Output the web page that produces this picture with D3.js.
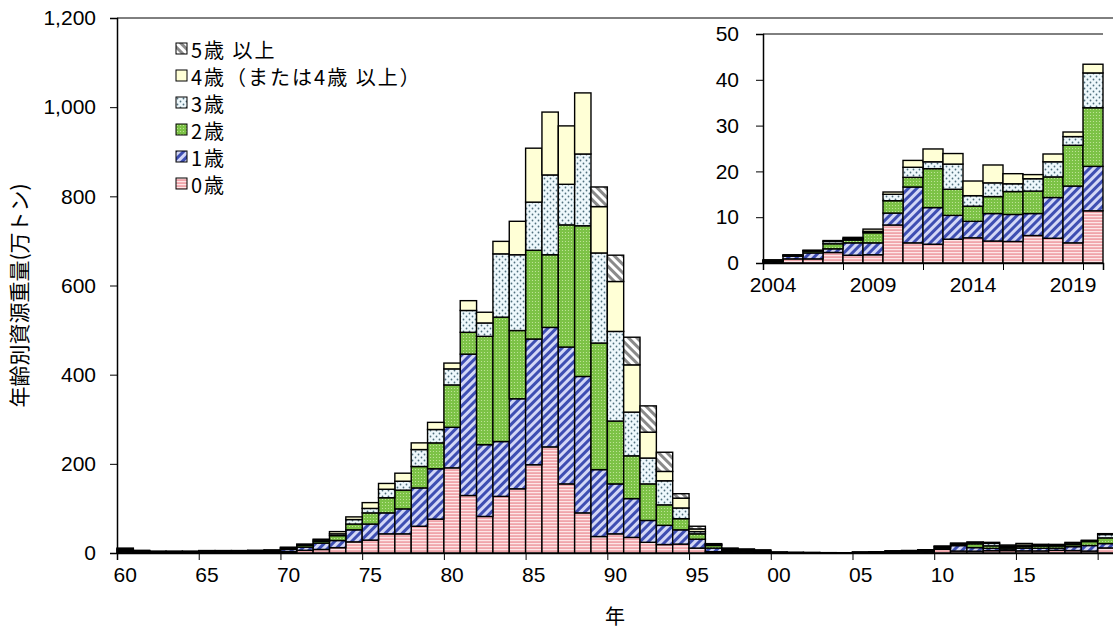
<!DOCTYPE html>
<html>
<head>
<meta charset="utf-8">
<title>年齢別資源重量</title>
<script src="https://d3js.org/d3.v7.min.js"></script>
<style>
  body { margin: 0; background: #fff; }
  svg text { font-family: "Liberation Sans", Arial, sans-serif; fill: #000; }
  svg .jp { font-family: "Noto Sans CJK JP", sans-serif; }
</style>
</head>
<body>
<svg id="chart" width="1113" height="630"></svg>
<script>
// categories
var years = d3.range(1960, 2021);
var insetYears = d3.range(2004, 2021);

// biomass by age (万トン), 1960 .. 2020
var age0 = [2,1,1,1,1,1,1,1,1,1, 3,6,8,12,25,29,43,43,60,76,
            191,129,82,127,144,198,238,155,90,37, 43,35,24,19,20,11,3,2,2,1,
            0.5,0.3,0.2,0.2,0.2,0.9,0.9,2.3,1.7,1.8, 8.3,4.4,4.1,5.2,5.5,4.8,4.7,6.0,5.4,4.4, 11.4];
var age1 = [3,2,1,1,1,1.5,1.5,1.5,2,2, 5,7,14,16,27,36,47,56,86,113,
            91,317,161,123,202,282,268,307,306,150, 112,87,49,43,32,20,8,3,2,2,
            0.5,0.4,0.3,0.2,0.2,0.6,1.3,0.8,2.7,2.6, 2.6,12.2,8.0,5.2,3.6,6.0,5.9,4.8,8.9,12.4, 9.7];
var age2 = [2,1,1,1,1,1.5,1.5,1.5,1.5,2, 2,4,4,11,13,25,34,42,48,58,
            95,49,243,279,153,199,163,274,338,284, 141,96,82,46,25,12,6,3,2,2,
            0.5,0.3,0.3,0.2,0.1,0.1,0.4,1.1,0.6,2.2, 2.7,2.1,8.5,5.7,3.3,3.7,5.0,4.9,4.5,8.9, 12.8];
var age3 = [2,1,0.5,0.5,0.5,1,1,1,1,1, 2,2,3,4,10,10,19,20,38,30,
            36,49,30,142,170,108,179,91,161,202, 201,98,58,54,24,5,2,2,2,1,
            0.3,0.2,0.2,0.1,0.1,0.1,0.1,0.5,0.3,0.3, 1.4,2.2,1.5,5.5,2.3,3.0,1.7,2.7,3.3,1.9, 7.6];
var age4 = [2,1,0.5,0.5,0.5,0.5,0.5,0.5,0.5,1, 1,1,2,5,6,13,13,18,15,16,
            13,22,24,28,75,121,141,131,137,104, 112,106,58,21,22,6,2,1,1,1,
            0.2,0.1,0.1,0.1,0.1,0.1,0.1,0.2,0.3,0.5, 0.5,1.5,2.8,2.3,3.2,3.9,2.2,0.9,1.7,1.0, 1.9];
var age5 = [0,0,0,0,0,0,0,0,0,0, 0,0,0,0,0,0,0,0,0,0,
            0,0,0,0,0,0,0,0,0,44, 59,62,59,43,10,6,0,0,0,0,
            0,0,0,0,0,0,0,0,0,0, 0,0,0,0,0,0,0,0,0,0, 0];

var keys = ["a0", "a1", "a2", "a3", "a4", "a5"];
var legendLabels = ["0歳", "1歳", "2歳", "3歳", "4歳（または4歳 以上）", "5歳 以上"];
var yTicks = [0, 200, 400, 600, 800, 1000, 1200];
var insetTicks = [0, 10, 20, 30, 40, 50];

var table = years.map(function(y, i) {
  return {year: y, a0: age0[i], a1: age1[i], a2: age2[i], a3: age3[i], a4: age4[i], a5: age5[i]};
});
var insetTable = table.filter(function(d) { return d.year >= 2004; });

var svg = d3.select("#chart");
var defs = svg.append("defs");

// fill patterns for each age class
function pattern(id, w, h, rot) {
  var p = defs.append("pattern").attr("id", id)
    .attr("patternUnits", "userSpaceOnUse")
    .attr("width", w).attr("height", h);
  if (rot) p.attr("patternTransform", "rotate(" + rot + ")");
  return p;
}
var p0 = pattern("p0", 4, 3);
p0.append("rect").attr("width", 4).attr("height", 3).attr("fill", "#f0a4aa");
p0.append("rect").attr("width", 4).attr("height", 1.2).attr("fill", "#fde6e7");
var p1 = pattern("p1", 6, 6, 45);
p1.append("rect").attr("width", 6).attr("height", 6).attr("fill", "#d3d7f6");
p1.append("rect").attr("width", 3).attr("height", 6).attr("fill", "#3e4eb2");
var p2 = pattern("p2", 3, 3);
p2.append("rect").attr("width", 3).attr("height", 3).attr("fill", "#7cc246");
p2.append("circle").attr("cx", 1.5).attr("cy", 1.5).attr("r", 0.6).attr("fill", "#c8e9a2");
var p3 = pattern("p3", 6, 6);
p3.append("rect").attr("width", 6).attr("height", 6).attr("fill", "#eef8fc");
p3.append("circle").attr("cx", 1.5).attr("cy", 1.5).attr("r", 0.9).attr("fill", "#50707e");
p3.append("circle").attr("cx", 4.5).attr("cy", 4.5).attr("r", 0.9).attr("fill", "#50707e");
var p4 = pattern("p4", 4, 4);
p4.append("rect").attr("width", 4).attr("height", 4).attr("fill", "#ffffd6");
var p5 = pattern("p5", 6, 6, -45);
p5.append("rect").attr("width", 6).attr("height", 6).attr("fill", "#ffffff");
p5.append("rect").attr("width", 3).attr("height", 6).attr("fill", "#8a8a8a");

var fills = {a0: "url(#p0)", a1: "url(#p1)", a2: "url(#p2)", a3: "url(#p3)", a4: "url(#p4)", a5: "url(#p5)"};

var stack = d3.stack().keys(keys);

// ---------- main chart ----------
var mLeft = 117, mRight = 1114, mTop = 18, mBottom = 553;

var x = d3.scaleBand().domain(years).range([mLeft, mRight]).padding(0);
var xEdge = d3.scaleLinear().domain([1960, 2021]).range([mLeft, mRight]);
var y = d3.scaleLinear().domain([0, 1200]).range([mBottom, mTop]);

var main = svg.append("g");

main.selectAll("g.layer").data(stack(table)).enter().append("g")
  .attr("class", "layer")
  .attr("fill", function(d) { return fills[d.key]; })
  .selectAll("rect").data(function(d) { return d; }).enter().append("rect")
  .attr("x", function(d) { return x(d.data.year); })
  .attr("width", x.bandwidth())
  .attr("y", function(d) { return y(d[1]); })
  .attr("height", function(d) { return y(d[0]) - y(d[1]); })
  .attr("stroke", function(d) { return d[1] - d[0] > 0 ? "#000" : "none"; })
  .attr("stroke-width", 1.4);

// frame top line
main.append("line").attr("x1", mLeft).attr("x2", mRight).attr("y1", mTop).attr("y2", mTop)
  .attr("stroke", "#000").attr("stroke-width", 1);

// y axis
var yAxis = main.append("g").attr("transform", "translate(" + mLeft + ",0)")
  .call(d3.axisLeft(y).tickValues(yTicks).tickFormat(d3.format(",")).tickSize(7).tickPadding(14));
yAxis.selectAll("text").style("font-size", "21px");

// x axis: tick marks at year boundaries, labels centred on bars
main.append("g").attr("transform", "translate(0," + mBottom + ")")
  .call(d3.axisBottom(xEdge).tickValues(d3.range(1960, 2021, 5)).tickFormat("").tickSize(7));
var xLabels = main.append("g").attr("transform", "translate(0," + mBottom + ")")
  .call(d3.axisBottom(x).tickValues(d3.range(1960, 2020, 5))
    .tickFormat(function(d) { return d3.format("02d")(d % 100); }).tickSize(0).tickPadding(14));
xLabels.select(".domain").remove();
xLabels.selectAll("text").style("font-size", "21px");
main.selectAll(".domain").attr("stroke-width", 1.5);

// axis titles
svg.append("text").attr("class", "jp")
  .attr("transform", "translate(27," + ((mTop + mBottom) / 2 + 10) + ") rotate(-90)")
  .attr("text-anchor", "middle").style("font-size", "21px")
  .text("年齢別資源重量(万トン)");
svg.append("text").attr("class", "jp")
  .attr("x", 615).attr("y", 624).attr("text-anchor", "middle").style("font-size", "20px")
  .text("年");

// legend
var legend = svg.append("g").attr("transform", "translate(176,49)");
var legendItems = legend.selectAll("g").data(keys.slice().reverse()).enter().append("g")
  .attr("transform", function(d, i) { return "translate(0," + (i * 27) + ")"; });
legendItems.append("rect").attr("x", 0).attr("y", -6).attr("width", 11).attr("height", 11)
  .attr("fill", function(d) { return fills[d]; }).attr("stroke", "#000").attr("stroke-width", 1);
legendItems.append("text").attr("class", "jp").attr("x", 15).attr("y", 0)
  .attr("dominant-baseline", "central").style("font-size", "20px").style("letter-spacing", "2px")
  .text(function(d) { return legendLabels[keys.indexOf(d)]; });

// ---------- inset chart ----------
var iLeft = 763, iRight = 1103, iTop = 34, iBottom = 263;
var ix = d3.scaleBand().domain(insetYears).range([iLeft, iRight]).padding(0);
var ixEdge = d3.scaleLinear().domain([2004, 2021]).range([iLeft, iRight]);
var iy = d3.scaleLinear().domain([0, 50]).range([iBottom, iTop]);

var inset = svg.append("g");
inset.append("rect").attr("x", 700).attr("y", 20).attr("width", 413).attr("height", 290).attr("fill", "#fff");

inset.selectAll("g.layer").data(stack(insetTable)).enter().append("g")
  .attr("class", "layer")
  .attr("fill", function(d) { return fills[d.key]; })
  .selectAll("rect").data(function(d) { return d; }).enter().append("rect")
  .attr("x", function(d) { return ix(d.data.year); })
  .attr("width", ix.bandwidth())
  .attr("y", function(d) { return iy(d[1]); })
  .attr("height", function(d) { return iy(d[0]) - iy(d[1]); })
  .attr("stroke", function(d) { return d[1] - d[0] > 0 ? "#000" : "none"; })
  .attr("stroke-width", 1.4);

inset.append("line").attr("x1", iLeft).attr("x2", iRight).attr("y1", iTop).attr("y2", iTop)
  .attr("stroke", "#000").attr("stroke-width", 1);

var iyAxis = inset.append("g").attr("transform", "translate(" + iLeft + ",0)")
  .call(d3.axisLeft(iy).tickValues(insetTicks).tickSize(7).tickPadding(17));
iyAxis.selectAll("text").style("font-size", "21px");

inset.append("g").attr("transform", "translate(0," + iBottom + ")")
  .call(d3.axisBottom(ixEdge).tickValues([2004, 2008, 2012, 2016, 2020]).tickFormat("").tickSize(7));
var ixLabels = inset.append("g").attr("transform", "translate(0," + iBottom + ")")
  .call(d3.axisBottom(ix).tickValues([2004, 2009, 2014, 2019]).tickSize(0).tickPadding(14));
ixLabels.select(".domain").remove();
ixLabels.selectAll("text").style("font-size", "21px");
inset.selectAll(".domain").attr("stroke-width", 1.5);
</script>
</body>
</html>
